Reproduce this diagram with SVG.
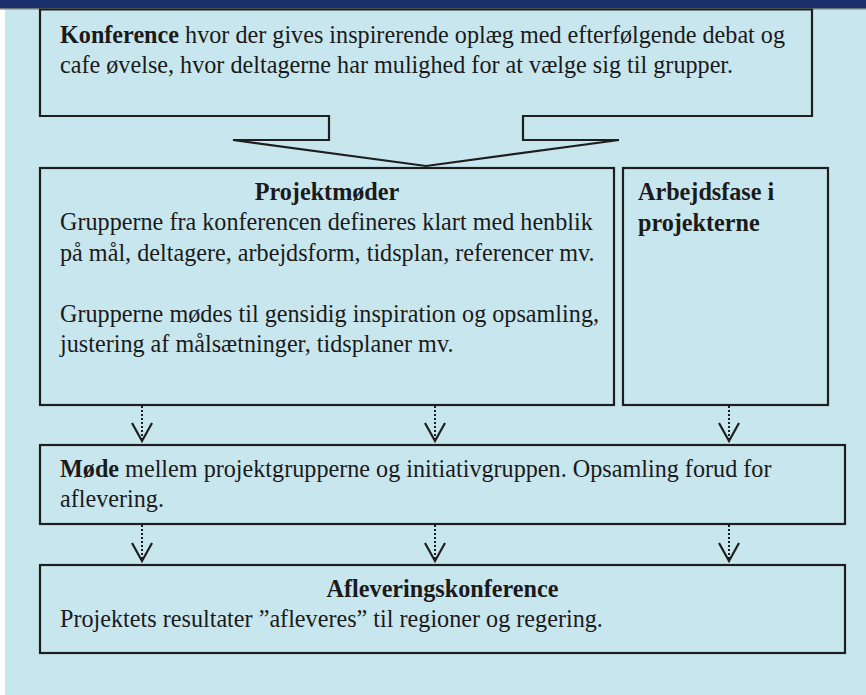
<svg xmlns="http://www.w3.org/2000/svg" width="866" height="695" viewBox="0 0 866 695">
<style>
.box{fill:#C8E6EE;stroke:#1e1e1e;stroke-width:2.2}
.t{font-family:"Liberation Serif","Times New Roman",serif;font-size:26px;fill:#1a1a1a}
.b{font-weight:bold}
.dot{stroke:#1e1e1e;stroke-width:2;stroke-dasharray:2 2;fill:none}
.head{stroke:#1e1e1e;stroke-width:2.2;fill:none}
</style>
<rect x="0" y="0" width="866" height="695" fill="#C8E6EE"/>
<rect x="0" y="0" width="5" height="695" fill="#FFFFFF"/>
<rect x="0" y="0" width="866" height="8" fill="#1B2F6A"/>
<rect x="0" y="8" width="866" height="1.5" fill="#6E7A80"/>
<g id="konference">
<path class="box" d="M40 9.5 H812 V116 H523 V140 H619 L426 166 L233 140 H329 V116 H40 Z"/>
<g transform="matrix(0.93 0 0 1 4.2 0)">
<text class="t" x="60" y="43"><tspan class="b">Konference</tspan> hvor der gives inspirerende oplæg med efterfølgende debat og</text>
<text class="t" x="60" y="73">cafe øvelse, hvor deltagerne har mulighed for at vælge sig til grupper.</text>
</g>
</g>
<g id="projektmoeder">
<rect class="box" x="40" y="168" width="574" height="237"/>
<text class="t b" x="327" y="200" text-anchor="middle" transform="matrix(0.93 0 0 1 22.89 0)">Projektmøder</text>
<g transform="matrix(0.93 0 0 1 4.2 0)">
<text class="t" x="60" y="230">Grupperne fra konferencen defineres klart med henblik</text>
<text class="t" x="60" y="261">på mål, deltagere, arbejdsform, tidsplan, referencer mv.</text>
<text class="t" x="60" y="322">Grupperne mødes til gensidig inspiration og opsamling,</text>
<text class="t" x="60" y="352">justering af målsætninger, tidsplaner mv.</text>
</g>
</g>
<g id="arbejdsfase">
<rect class="box" x="623" y="168" width="205" height="237"/>
<g transform="matrix(0.93 0 0 1 44.66 0)">
<text class="t b" x="638" y="200">Arbejdsfase i</text>
<text class="t b" x="638" y="231">projekterne</text>
</g>
</g>
<g id="moede">
<rect class="box" x="40" y="445" width="805" height="79"/>
<g transform="matrix(0.93 0 0 1 4.2 0)">
<text class="t" x="60" y="477"><tspan class="b">Møde</tspan> mellem projektgrupperne og initiativgruppen. Opsamling forud for</text>
<text class="t" x="60" y="507">aflevering.</text>
</g>
</g>
<g id="afleveringskonference">
<rect class="box" x="40" y="565" width="805" height="88"/>
<text class="t b" x="442.5" y="597" text-anchor="middle" transform="matrix(0.93 0 0 1 30.975 0)">Afleveringskonference</text>
<text class="t" x="60" y="627" transform="matrix(0.93 0 0 1 4.2 0)">Projektets resultater ”afleveres” til regioner og regering.</text>
</g>
<g id="connectors">
<path class="dot" d="M142 406 V440 M435 406 V440 M729 406 V440 M142 525 V560 M435 525 V560 M729 525 V560"/>
<path class="head" d="M132 423 L142 441 L152 423 M425 423 L435 441 L445 423 M719 423 L729 441 L739 423 M132 543 L142 561 L152 543 M425 543 L435 561 L445 543 M719 543 L729 561 L739 543"/>
</g>
</svg>
